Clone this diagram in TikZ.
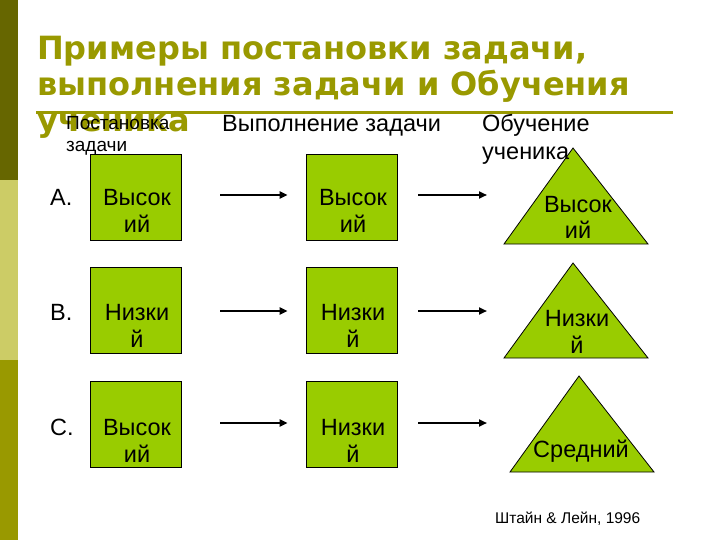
\documentclass[tikz,border=0pt]{standalone}
\usepackage{fontspec}
\setmainfont{Liberation Sans}
\newfontfamily\titlefont{DejaVu Sans}
\usetikzlibrary{arrows.meta}
\definecolor{bardark}{HTML}{666600}
\definecolor{barlight}{HTML}{CCCC66}
\definecolor{barmid}{HTML}{999900}
\definecolor{titleolive}{HTML}{999900}
\definecolor{boxgreen}{HTML}{99CC00}
\newcommand{\mytwolines}[2]{\vtop{\baselineskip=27pt\lineskiplimit=-10pt\halign{\hfil##\hfil\cr #1\cr #2\cr}}}
\tikzset{
  txt/.style={inner sep=0pt, font=\fontsize{23.5}{27}\selectfont},
  smalltxt/.style={inner sep=0pt, font=\fontsize{19}{22}\selectfont},
  titletxt/.style={inner sep=0pt, anchor=base west, text=titleolive, font=\titlefont\bfseries\fontsize{32}{36}\selectfont},
  greenbox/.style={draw=black, line width=0.8pt, fill=boxgreen, minimum width=91pt, minimum height=86pt, inner sep=0pt},
  greentri/.style={draw=black, line width=0.8pt, fill=boxgreen},
  arr/.style={line width=2.5pt, -{Triangle[length=8pt,width=7pt]}}
}
\begin{document}
\begin{tikzpicture}[x=1pt,y=-1pt]
\useasboundingbox (0,0) rectangle (720,540);
% side bar
\fill[bardark] (0,0) rectangle (18,180);
\fill[barlight] (0,180) rectangle (18,360);
\fill[barmid] (0,360) rectangle (18,540);
% title
\node[titletxt] (t1) at (37,60) {Примеры постановки задачи,};
\node[titletxt] (t2) at (37,96) {выполнения задачи и Обучения};
\node[titletxt] (t3) at (37,132) {ученика};
% title rule
\draw[titleolive, line width=3pt] (36,113) -- (673,113);
% boxes
\node[greenbox] (a1) at (135.5,197.5) {};
\node[greenbox] (b1) at (135.5,310) {};
\node[greenbox] (c1) at (135.5,424.5) {};
\node[greenbox] (a2) at (351.5,197.5) {};
\node[greenbox] (b2) at (351.5,310) {};
\node[greenbox] (c2) at (351.5,424.5) {};
\node[txt, anchor=base] (a1t) at (137,206) {\mytwolines{Высок}{ий}};
\node[txt, anchor=base] (b1t) at (137,320) {\mytwolines{Низки}{й}};
\node[txt, anchor=base] (c1t) at (137,435) {\mytwolines{Высок}{ий}};
\node[txt, anchor=base] (a2t) at (353,206) {\mytwolines{Высок}{ий}};
\node[txt, anchor=base] (b2t) at (353,320) {\mytwolines{Низки}{й}};
\node[txt, anchor=base] (c2t) at (353,435) {\mytwolines{Низки}{й}};
% triangles
\coordinate (ta) at (573,148);
\coordinate (tal) at (504,244);
\coordinate (tar) at (648,244);
\coordinate (tb) at (573,263);
\coordinate (tbl) at (504,358);
\coordinate (tbr) at (648,358);
\coordinate (tc) at (579,376);
\coordinate (tcl) at (510,472);
\coordinate (tcr) at (654,472);
\draw[greentri] (ta) -- (tar) -- (tal) -- cycle;
\draw[greentri] (tb) -- (tbr) -- (tbl) -- cycle;
\draw[greentri] (tc) -- (tcr) -- (tcl) -- cycle;
\node[txt, anchor=base] (a3t) at (578,212) {\mytwolines{Высок}{ий}};
\node[txt, anchor=base] (b3t) at (577,326) {\mytwolines{Низки}{й}};
\node[txt, anchor=base] (c3t) at (581,457) {Средний};
% column headers
\node[smalltxt, anchor=base west] (h1a) at (66,130) {Постановка};
\node[smalltxt, anchor=base west] (h1b) at (66,152) {задачи};
\node[txt, anchor=base west] (h2) at (222,132) {Выполнение задачи};
\node[txt, anchor=base west] (h3a) at (482,132) {Обучение};
\node[txt, anchor=base west] (h3b) at (482,160) {ученика};
% row labels
\node[txt, anchor=base west] (la) at (50,206) {A.};
\node[txt, anchor=base west] (lb) at (50,320) {B.};
\node[txt, anchor=base west] (lc) at (50,435) {C.};
% arrows
\coordinate (ea) at (487,195);
\coordinate (eb) at (487,311);
\coordinate (ec) at (487,423);
\draw[arr] (a1.east |- 0,195) ++(39,0) -- ([xshift=-18pt]a2.west |- 0,195);
\draw[arr] (b1.east |- 0,311) ++(39,0) -- ([xshift=-18pt]b2.west |- 0,311);
\draw[arr] (c1.east |- 0,423) ++(39,0) -- ([xshift=-18pt]c2.west |- 0,423);
\draw[arr] (a2.east |- ea) ++(21,0) -- (ea);
\draw[arr] (b2.east |- eb) ++(21,0) -- (eb);
\draw[arr] (c2.east |- ec) ++(21,0) -- (ec);
% citation
\node[inner sep=0pt, anchor=base west, font=\fontsize{15.5}{18}\selectfont] (cite) at (495,523) {Штайн \& Лейн, 1996};
\end{tikzpicture}
\end{document}
